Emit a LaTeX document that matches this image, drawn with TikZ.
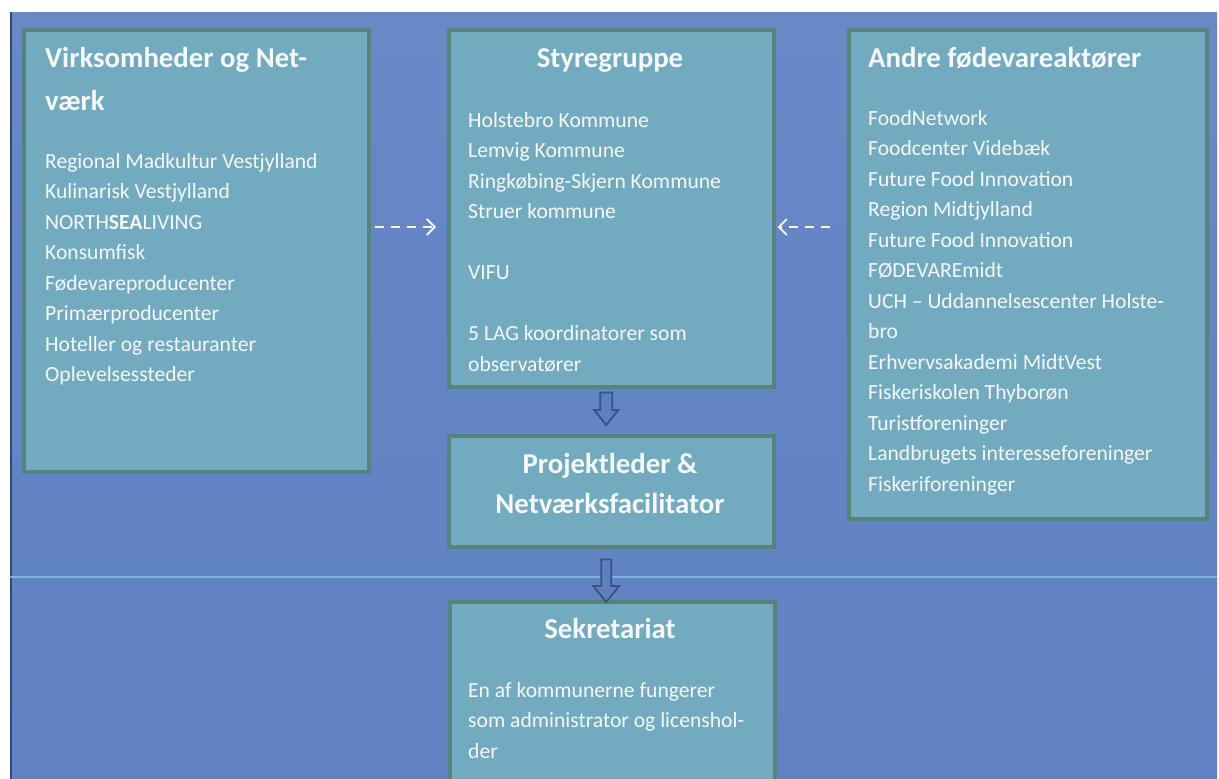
\documentclass[tikz,border=0pt]{standalone}
\usepackage{fontspec}
\setmainfont{Carlito}
\usetikzlibrary{calc,arrows.meta}
\definecolor{bgtop}{HTML}{6888C6}
\definecolor{bgbot}{HTML}{5F82C2}
\definecolor{bgedge}{HTML}{30497A}
\definecolor{boxfill}{HTML}{72AABF}
\definecolor{boxline}{HTML}{58837C}
\definecolor{arrline}{HTML}{3A5283}
\definecolor{arrfill}{HTML}{5F80BF}
\definecolor{txt}{HTML}{F5F9FB}
\definecolor{scanline}{HTML}{78C8E0}
\begin{document}
\begin{tikzpicture}[x=1pt,y=-1pt,
  box/.style={draw=boxline, line width=3.5pt, fill=boxfill, inner sep=0pt, anchor=north west},
  body/.style={text=txt, font=\fontsize{21.6}{21.6}\selectfont, anchor=base west, inner sep=0pt},
  title/.style={text=txt, font=\fontsize{28.8}{28.8}\selectfont\bfseries, anchor=base west, inner sep=0pt},
  ctitle/.style={title, anchor=base},
  dasharr/.style={draw=txt, line width=1.8pt, dash pattern=on 9pt off 7pt,
    -{Straight Barb[length=8pt,width=16pt,line width=1.8pt]}},
  blk/.style={draw=arrline, line width=1.8pt, fill=arrfill, line join=miter}
]
\useasboundingbox (0,0) rectangle (1219,779);
\clip (0,0) rectangle (1219,779);
\fill[white] (0,0) rectangle (1219,779);
\shade[top color=bgtop, bottom color=bgbot] (10,12) rectangle (1217,779);
\draw[bgedge, line width=2pt] (11,12) -- (11,779);

% boxes
\node[box, minimum width=345pt, minimum height=442pt] (virk) at (22,28) {};
\node[box, minimum width=325pt, minimum height=357pt] (sty) at (447,28) {};
\node[box, minimum width=325pt, minimum height=111pt] (pl) at (447,434) {};
\node[box, minimum width=325pt, minimum height=200pt] (sek) at (448,600) {};
\node[box, minimum width=358pt, minimum height=489pt] (andre) at (847,28) {};

% scan line
\draw[scanline, line width=1.2pt, opacity=0.8] (10,577) -- (1217,577);

% left box
\node[title] (vt1) at (45,67) {Virksomheder og Net-};
\node[title] (vt2) at (45,110) {værk};
\foreach \t [count=\i from 0] in {Regional Madkultur Vestjylland, Kulinarisk Vestjylland, NORTH\textbf{SEA}LIVING, Konsumfisk, Fødevareproducenter, Primærproducenter, Hoteller og restauranter, Oplevelsessteder}
  \node[body] (v\i) at (45,168+30.5*\i) {\t};

% styregruppe
\node[ctitle] (st) at (610,67) {Styregruppe};
\foreach \t/\yy [count=\i] in {Holstebro Kommune/127, Lemvig Kommune/157.5, Ringkøbing-Skjern Kommune/188, Struer kommune/218.5, VIFU/279.5, 5 LAG koordinatorer som/340.5, observatører/371}
  \node[body] (s\i) at (468,\yy) {\t};

% projektleder
\node[ctitle] (pt1) at (610,473) {Projektleder \&};
\node[ctitle] (pt2) at (610,513) {Netværksfacilitator};

% sekretariat
\node[ctitle] (sk) at (610,638) {Sekretariat};
\node[body] (k1) at (468,697) {En af kommunerne fungerer};
\node[body] (k2) at (468,727.5) {som administrator og licenshol-};
\node[body] (k3) at (468,758) {der};

% andre
\node[title] (at) at (868,67) {Andre fødevareaktører};
\foreach \t [count=\i from 0] in {FoodNetwork, Foodcenter Videbæk, Future Food Innovation, Region Midtjylland, Future Food Innovation, FØDEVAREmidt, UCH – Uddannelsescenter Holste-, bro, Erhvervsakademi MidtVest, Fiskeriskolen Thyborøn, Turistforeninger, Landbrugets interesseforeninger, Fiskeriforeninger}
  \node[body] (a\i) at (868,125+30.5*\i) {\t};

% dashed arrows
\coordinate (ly) at (0,227);
\draw[dasharr, shorten <=4pt, shorten >=11pt] (virk.east |- ly) -- (sty.west |- ly);
\draw[dasharr, shorten <=17pt, shorten >=2pt] (andre.west |- ly) -- (sty.east |- ly);

% block arrows
\coordinate (b1s) at ($(sty.south)+(-5,4)$);
\coordinate (b1e) at ($(pl.north)+(-5,-9)$);
\draw[blk] let \p1=(b1s), \p2=(b1e) in
  (\x1-6pt,\y1) -- (\x1-6pt,\y2+15pt) -- (\x1-12pt,\y2+15pt) -- (\x2,\y2)
  -- (\x1+12pt,\y2+15pt) -- (\x1+6pt,\y2+15pt) -- (\x1+6pt,\y1) -- cycle;
\coordinate (b2s) at ($(pl.south)+(-5,11)$);
\coordinate (b2e) at ($(sek.north)+(-6,2)$);
\draw[blk] let \p1=(b2s), \p2=(b2e) in
  (\x1-5pt,\y1) -- (\x1-5pt,\y2+16pt) -- (\x1-13pt,\y2+16pt) -- (\x2,\y2)
  -- (\x1+13pt,\y2+16pt) -- (\x1+5pt,\y2+16pt) -- (\x1+5pt,\y1) -- cycle;
\end{tikzpicture}
\end{document}
